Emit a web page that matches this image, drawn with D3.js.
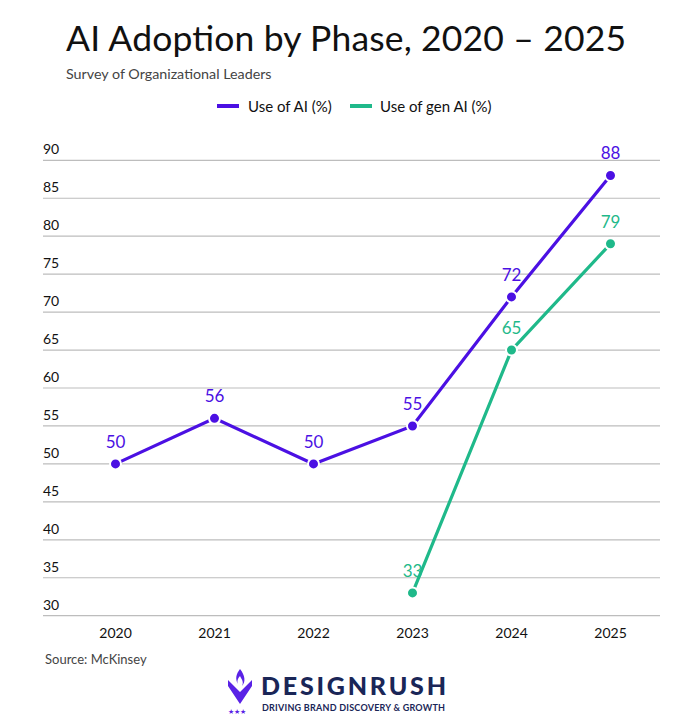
<!DOCTYPE html>
<html><head><meta charset="utf-8">
<script src="https://cdn.jsdelivr.net/npm/d3@7"></script>
<style>body{margin:0;background:#fff}svg{display:block}</style>
</head><body>
<script>
const years = ["2020","2021","2022","2023","2024","2025"];
const useAI = [50,56,50,55,72,88];
const useGenAI = [null,null,null,33,65,79];
const yTicks = [30,35,40,45,50,55,60,65,70,75,80,85,90];
const seriesNames = ["Use of AI (%)","Use of gen AI (%)"];
const colors = ["#4b10e3","#1fb98a"];

const W=700,H=726, FONT="Lato, 'Noto Sans', sans-serif";
const svg=d3.select("body").append("svg").attr("width",W).attr("height",H).style("font-family",FONT);

svg.append("text").attr("x",66).attr("y",51).attr("font-size",35.5).attr("fill","#111").attr("textLength",560).text("AI Adoption by Phase, 2020 – 2025");
svg.append("text").attr("x",66).attr("y",79).attr("font-size",14.3).attr("fill","#444").text("Survey of Organizational Leaders");

const x=d3.scaleBand().domain(years).range([66,660]);
const y=d3.scaleLinear().domain([30,90]).range([615.7,160.3]);

// gridlines + labels
const g=svg.append("g");
g.selectAll("line.grid").data(yTicks).join("line")
 .attr("x1",43).attr("x2",660).attr("y1",d=>y(d)).attr("y2",d=>y(d))
 .attr("stroke","#bdbdbd").attr("stroke-width",1.2);
g.selectAll("text.yl").data(yTicks).join("text")
 .attr("x",43).attr("y",d=>y(d)-6).attr("font-size",14).attr("fill","#111").text(d=>d);

// x axis labels
const xa=svg.append("g").attr("transform","translate(0,615.7)")
 .call(d3.axisBottom(x).tickSize(0).tickPadding(12));
xa.select(".domain").remove();
xa.selectAll("text").attr("font-size",14).attr("fill","#111").style("font-family",FONT);

// legend
const leg=[{x:217,tx:248},{x:350,tx:380}];
seriesNames.forEach((n,i)=>{
  svg.append("line").attr("x1",leg[i].x).attr("x2",leg[i].x+22).attr("y1",106).attr("y2",106)
    .attr("stroke",colors[i]).attr("stroke-width",4);
  svg.append("text").attr("x",leg[i].tx).attr("y",111.5).attr("font-size",15).attr("fill","#111").text(n);
});

const cx=d=>x(d.year)+x.bandwidth()/2;
[useAI,useGenAI].forEach((vals,i)=>{
  const data=years.map((yr,j)=>({year:yr,v:vals[j]})).filter(d=>d.v!=null);
  svg.append("path").datum(data)
    .attr("d",d3.line().x(cx).y(d=>y(d.v)))
    .attr("fill","none").attr("stroke",colors[i]).attr("stroke-width",3.2);
  svg.selectAll(null).data(data).join("circle")
    .attr("cx",cx).attr("cy",d=>y(d.v)).attr("r",5.5)
    .attr("fill",colors[i]).attr("stroke","#fff").attr("stroke-width",2);
  svg.selectAll(null).data(data).join("text")
    .attr("x",cx).attr("y",d=>y(d.v)-16).attr("text-anchor","middle")
    .attr("font-size",17).attr("fill",colors[i]).text(d=>d.v);
});

svg.append("text").attr("x",45).attr("y",664).attr("font-size",13).attr("fill","#444").text("Source: McKinsey");

// logo
const lg=svg.append("g");
lg.append("path").attr("d","M228,680 L240,692 L252,680 L252,686 L240,704 L228,686 Z").attr("fill","#5a22e6");
lg.append("path").attr("d","M240,669 C236,674 235,679 238,684 C236,680 240,676 240,676 C242,680 244,682 242,686 C246,682 245,675 240,669 Z").attr("fill","#5a22e6");
[231,237,243].forEach(sx=>lg.append("text").attr("x",sx).attr("y",714).attr("font-size",7).attr("fill","#5a22e6").attr("text-anchor","middle").text("★"));
lg.append("text").attr("x",261).attr("y",695).attr("font-size",25).attr("font-weight",900).attr("fill","#1a2657").attr("textLength",185).text("DESIGNRUSH");
lg.append("text").attr("x",262).attr("y",710.5).attr("font-size",9).attr("font-weight",700).attr("fill","#1a2657").attr("textLength",183).text("DRIVING BRAND DISCOVERY & GROWTH");
</script>
</body></html>
